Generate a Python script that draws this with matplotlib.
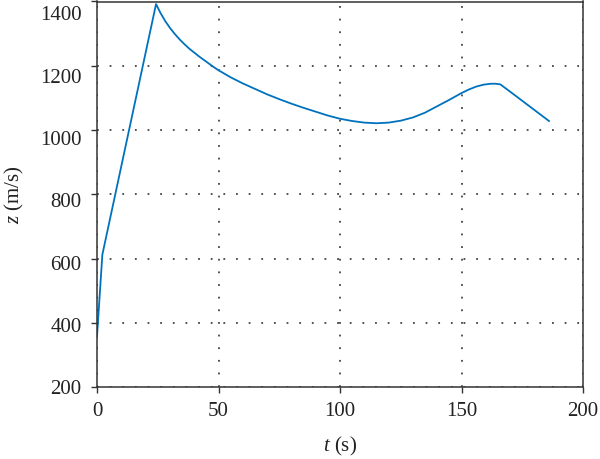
import matplotlib
matplotlib.use("Agg")
import matplotlib.pyplot as plt
from matplotlib.transforms import offset_copy

# curve
t = [0.0, 2.2, 24.3, 26, 28, 30, 32, 34, 36, 38, 40, 42, 44, 46, 48, 50,
     55, 60, 65, 70, 75, 80, 85, 90, 95, 100, 105, 110, 115, 120, 125,
     130, 135, 140, 145, 150, 153, 156, 159, 162, 164, 166, 172, 179, 186]
z = [357, 612, 1392, 1366, 1340, 1318, 1299, 1282, 1267, 1253, 1241, 1229, 1218, 1207, 1196, 1186,
     1164, 1145, 1128, 1111, 1096, 1082, 1069, 1057, 1045, 1035, 1028, 1023, 1021, 1023, 1029,
     1039, 1054, 1074, 1094, 1115, 1126, 1135, 1141, 1144, 1144, 1142, 1108, 1068, 1028]

xticks = [0, 50, 100, 150, 200]
yticks = [200, 400, 600, 800, 1000, 1200, 1400]

plt.rcParams['font.family'] = 'Liberation Serif'
plt.rcParams['mathtext.fontset'] = 'custom'
plt.rcParams['mathtext.it'] = 'Liberation Serif:italic'
plt.rcParams['mathtext.rm'] = 'Liberation Serif'

fig = plt.figure(figsize=(6, 4.59), dpi=100)
ax = fig.add_axes([97 / 600, 72 / 459, 486 / 600, 385.5 / 459])

ax.plot(t, z, color='#0072BD', linewidth=1.3)

ax.set_xlim(0, 200)
ax.set_ylim(200, 1400)
ax.set_xticks(xticks)
ax.set_yticks(yticks)
ax.grid(True, color='#444444', linestyle=(0, (1, 6)), linewidth=1.3)

for s in ax.spines.values():
    s.set_color('#333333')
    s.set_linewidth(1.1)
ax.tick_params(direction='out', length=4, width=1.0, color='#333333',
               labelsize=15, labelcolor='#222222', pad=7)

# y labels in the reference sit a little below their ticks, more so at the top
ax.set_yticklabels([])
for v in yticks:
    shift = -12 * (v - 200) / 1200 * 72 / 100
    tr = offset_copy(ax.get_yaxis_transform(), fig=fig, x=-11, y=shift, units='points')
    ax.text(0, v, str(v), transform=tr, ha='right', va='center_baseline',
            fontsize=15, color='#222222')

ax.set_xlabel(r'$t$ (s)', fontsize=15, color='#222222', labelpad=10)
ax.set_ylabel(r'$z$ (m/s)', fontsize=15, color='#222222', labelpad=40)

fig.savefig('out.png', dpi=100)
